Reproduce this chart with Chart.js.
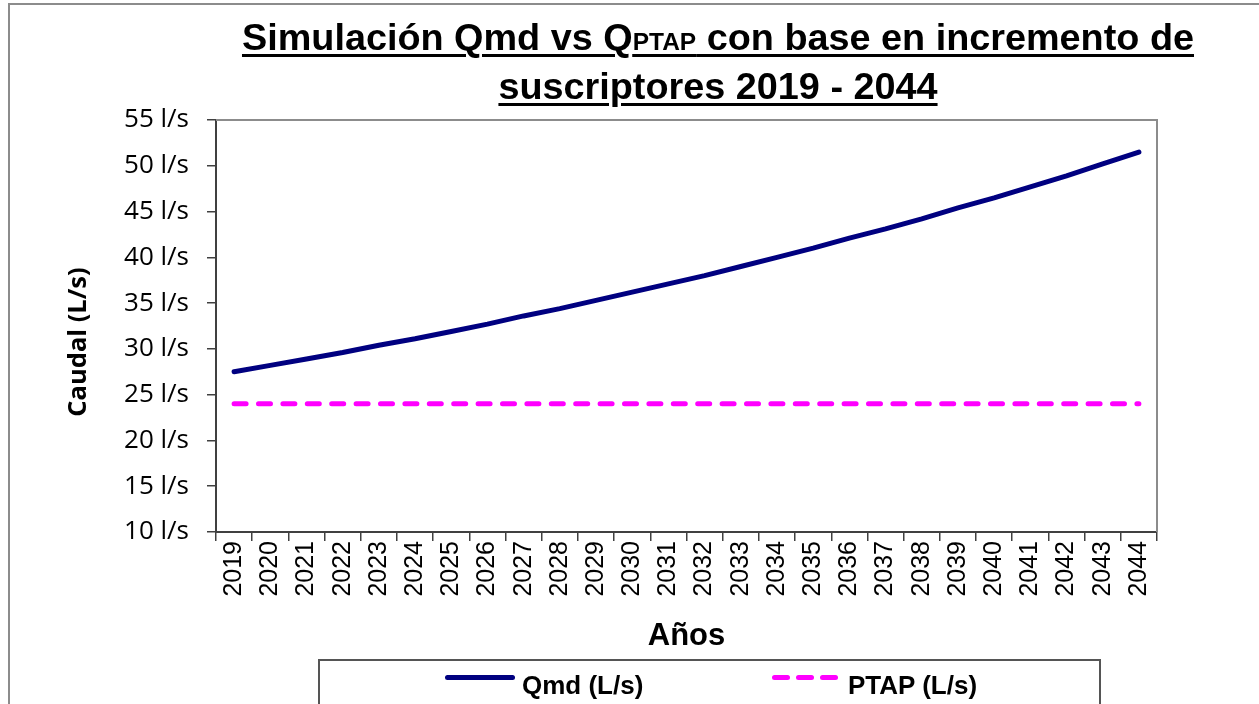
<!DOCTYPE html>
<html><head><meta charset="utf-8">
<script src="https://cdn.jsdelivr.net/npm/chart.js@4.4.1/dist/chart.umd.min.js"></script>
<style>
html,body{margin:0;padding:0;background:#fff;overflow:hidden}
#wrap{position:relative;width:1259px;height:704px;overflow:hidden}
#frame{position:absolute;left:8px;top:3px;width:1280px;height:730px;border:2px solid #8c8c8c;box-sizing:border-box}
#title{position:absolute;left:118px;top:15px;width:1200px;text-align:center;font-family:"Liberation Sans",Arial,sans-serif;font-weight:bold;font-size:37.8px;line-height:44px;color:#000}
#title span.u{text-decoration:underline;text-decoration-thickness:3px;text-underline-offset:4px}
#title .sc{font-size:24.5px}
#c{position:absolute;left:0;top:0}
#legend{position:absolute;left:318px;top:659px;width:783px;height:50px;border:2px solid #555;box-sizing:border-box;font-family:"Liberation Sans",Arial,sans-serif;font-weight:bold;font-size:26px;color:#000}
.item{position:absolute;top:9px;height:30px;line-height:30px}
.solid{position:absolute;top:14px;width:70px;height:5px;border-radius:3px;background:#000080}
.dash{position:absolute;top:14px;width:18px;height:5px;border-radius:3px;background:#ff00ff}
</style></head>
<body><div id="wrap">
<div id="frame"></div>
<canvas id="c" width="1259" height="704"></canvas>
<div id="title"><span class="u">Simulación Qmd vs Q<span class="sc">PTAP</span> con base en incremento de</span><br><span class="u">suscriptores 2019 - 2044</span></div>
<div id="legend">
  <div class="solid" style="left:125px"></div>
  <div class="item" style="left:202px">Qmd (L/s)</div>
  <div class="dash" style="left:452px"></div>
  <div class="dash" style="left:476px"></div>
  <div class="dash" style="left:500px"></div>
  <div class="item" style="left:528px">PTAP (L/s)</div>
</div>
</div>
<script>
const years = ['2019','2020','2021','2022','2023','2024','2025','2026','2027','2028','2029','2030','2031','2032','2033','2034','2035','2036','2037','2038','2039','2040','2041','2042','2043','2044'];
const qmd = [27.5,28.2,28.9,29.6,30.4,31.1,31.9,32.7,33.6,34.4,35.3,36.2,37.1,38.0,39.0,40.0,41.0,42.1,43.1,44.2,45.4,46.5,47.7,48.9,50.2,51.5];
const ptap = [24,24,24,24,24,24,24,24,24,24,24,24,24,24,24,24,24,24,24,24,24,24,24,24,24,24];
const yTickValues = [10,15,20,25,30,35,40,45,50,55];
const yUnit = ' l/s';
const yTitle = 'Caudal (L/s)';
const xTitle = 'Años';

const frame = {
  id:'plotFrame',
  afterDraw(chart){
    const {ctx, chartArea:a} = chart;
    ctx.save();
    ctx.strokeStyle='#8c8c8c'; ctx.lineWidth=2;
    ctx.beginPath();
    ctx.moveTo(a.left, a.top); ctx.lineTo(a.right, a.top); ctx.lineTo(a.right, a.bottom);
    ctx.stroke();
    ctx.translate(79, 342);
    ctx.rotate(-Math.PI/2);
    ctx.fillStyle='#000';
    ctx.font='bold 25.5px "Open Sans"';
    ctx.textAlign='center'; ctx.textBaseline='middle';
    ctx.fillText(yTitle, 0, 0);
    ctx.restore();
  }
};

new Chart(document.getElementById('c'), {
  type:'line',
  data:{labels:years, datasets:[
    {label:'Qmd (L/s)', data:qmd, borderColor:'#000080', backgroundColor:'#000080', borderWidth:5, pointRadius:0, borderCapStyle:'round', borderJoinStyle:'round', tension:0},
    {label:'PTAP (L/s)', data:ptap, borderColor:'#ff00ff', backgroundColor:'#ff00ff', borderWidth:5, pointRadius:0, borderDash:[12,12.4], borderCapStyle:'round'}
  ]},
  options:{
    responsive:false, animation:false, devicePixelRatio:1,
    layout:{padding:{left:50,right:102,top:120,bottom:47}},
    plugins:{legend:{display:false}, tooltip:{enabled:false}, title:{display:false}},
    scales:{
      x:{
        offset:true,
        grid:{offset:true, drawOnChartArea:false, tickLength:9, color:'#404040', lineWidth:1.5},
        border:{color:'#404040', width:2},
        ticks:{minRotation:90, maxRotation:90, autoSkip:false, color:'#000', padding:0, font:{family:'Liberation Sans', size:25}},
        title:{display:true, text:xTitle, color:'#000', font:{family:'Liberation Sans', size:31, weight:'bold'}, padding:{top:4,bottom:2}},
        afterFit(s){ s.height = 125; }
      },
      y:{
        min:10, max:55,
        afterBuildTicks(s){ s.ticks = yTickValues.map(v=>({value:v})); },
        ticks:{color:'#000', padding:18, font:{family:'Open Sans', size:26}, callback:v=>v+yUnit},
        grid:{drawOnChartArea:false, tickLength:9, color:'#404040', lineWidth:1.5},
        border:{color:'#404040', width:2},
        title:{display:false},
        afterFit(s){ s.width = 166; }
      }
    }
  },
  plugins:[frame]
});
</script>
</body></html>
